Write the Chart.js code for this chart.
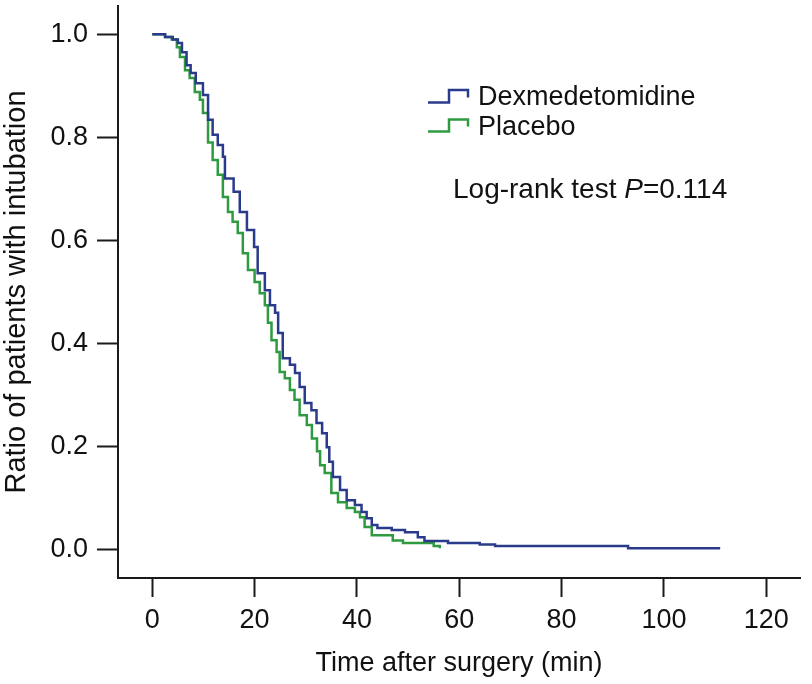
<!DOCTYPE html>
<html>
<head>
<meta charset="utf-8">
<script src="https://cdn.jsdelivr.net/npm/chart.js@4"></script>
<style>
  body { margin: 0; background: #fff; }
  #chartContainer { display: block; }
</style>
</head>
<body>
<canvas id="chartContainer" width="812" height="684"></canvas>
<script>
// Kaplan-Meier style data (time in min, ratio still intubated)
const dexTimes = [0, 2.5, 4, 5, 5.8, 6.7, 7.5, 8.5, 9.9, 10.9, 11.8, 12.8, 13.8, 14.2, 15.9, 17.1, 18.5, 19.9, 20.6, 22, 23, 24, 24.6, 25.5, 26.9, 27.9, 28.8, 29.8, 31.1, 32.1, 33.2, 34.1, 34.6, 35.3, 36.7, 38, 39.6, 40.9, 41.9, 42.9, 44, 46.8, 49.4, 51.9, 53.2, 57.8, 64, 67, 93, 111];
const dexRatio = [1.0, 0.995, 0.99, 0.983, 0.965, 0.94, 0.925, 0.905, 0.882, 0.834, 0.805, 0.785, 0.762, 0.72, 0.694, 0.655, 0.62, 0.587, 0.536, 0.503, 0.474, 0.459, 0.42, 0.371, 0.358, 0.342, 0.315, 0.284, 0.27, 0.245, 0.225, 0.198, 0.17, 0.14, 0.115, 0.095, 0.086, 0.072, 0.06, 0.047, 0.041, 0.037, 0.033, 0.023, 0.016, 0.012, 0.009, 0.006, 0.002, 0.002];

const placeboTimes = [0, 2.5, 3.8, 4.8, 5.4, 6.4, 7.3, 8.3, 9.3, 9.9, 10.9, 11.8, 12.8, 13.8, 14.8, 15.7, 16.7, 17.7, 18.7, 20, 21, 22, 22.6, 23.3, 24.3, 24.9, 25.9, 26.9, 27.8, 28.8, 30.2, 31.2, 32.2, 32.8, 33.7, 35, 36.3, 38, 39.6, 40.6, 41.5, 42.9, 47, 49, 55, 56.2];
const placeboRatio = [1.0, 0.995, 0.99, 0.975, 0.956, 0.93, 0.915, 0.888, 0.873, 0.847, 0.79, 0.756, 0.727, 0.684, 0.655, 0.636, 0.614, 0.575, 0.542, 0.519, 0.497, 0.474, 0.44, 0.406, 0.383, 0.344, 0.332, 0.309, 0.29, 0.26, 0.241, 0.215, 0.19, 0.163, 0.148, 0.109, 0.091, 0.08, 0.072, 0.062, 0.043, 0.027, 0.017, 0.012, 0.006, 0.002];

const seriesNames = ['Dexmedetomidine', 'Placebo'];
const xTickValues = [0, 20, 40, 60, 80, 100, 120];
const yTickValues = [0, 0.2, 0.4, 0.6, 0.8, 1.0];
const pValueText = '=0.114';

const blue = '#2b3b8c';
const green = '#2f9a40';
const FONT = '"Liberation Sans", Arial, sans-serif';

function toPoints(xs, ys) {
    return xs.map((x, i) => ({ x: x, y: ys[i] }));
}

// draws the step-icon legend and the log-rank note
const notesPlugin = {
    id: 'notes',
    afterDraw(chart) {
        const ctx = chart.ctx;
        ctx.save();
        const icons = [
            { color: blue, low: 102.5, high: 90, label: seriesNames[0], base: 105 },
            { color: green, low: 131.5, high: 119.5, label: seriesNames[1], base: 135 }
        ];
        icons.forEach(it => {
            ctx.strokeStyle = it.color;
            ctx.lineWidth = 2.5;
            ctx.beginPath();
            ctx.moveTo(428, it.low);
            ctx.lineTo(449, it.low);
            ctx.lineTo(449, it.high);
            ctx.lineTo(468, it.high);
            ctx.lineTo(468, it.low - 5);
            ctx.stroke();
            ctx.fillStyle = '#111';
            ctx.font = '27px ' + FONT;
            ctx.textBaseline = 'alphabetic';
            ctx.fillText(it.label, 478, it.base);
        });
        ctx.font = '28px ' + FONT;
        let x = 453;
        const pre = 'Log-rank test ';
        ctx.fillText(pre, x, 198);
        x += ctx.measureText(pre).width;
        ctx.font = 'italic 28px ' + FONT;
        ctx.fillText('P', x, 198);
        x += ctx.measureText('P').width;
        ctx.font = '28px ' + FONT;
        ctx.fillText(pValueText, x, 198);
        ctx.restore();
    }
};

const ctx = document.getElementById('chartContainer').getContext('2d');

new Chart(ctx, {
    type: 'line',
    data: {
        datasets: [{
            label: seriesNames[0],
            data: toPoints(dexTimes, dexRatio),
            borderColor: blue,
            borderWidth: 2.5,
            pointRadius: 0,
            stepped: true,
            fill: false
        }, {
            label: seriesNames[1],
            data: toPoints(placeboTimes, placeboRatio),
            borderColor: green,
            borderWidth: 2.5,
            pointRadius: 0,
            stepped: true,
            fill: false
        }]
    },
    options: {
        responsive: false,
        animation: false,
        layout: { padding: { top: 6, right: 12, bottom: 0, left: 0 } },
        plugins: {
            legend: { display: false },
            tooltip: { enabled: false }
        },
        scales: {
            x: {
                type: 'linear',
                min: -6.7,
                max: 126.6,
                afterBuildTicks: s => { s.ticks = xTickValues.map(v => ({ value: v })); },
                afterFit: s => { s.height = 106; s.paddingLeft = 0; s.paddingRight = 0; },
                border: { display: true, color: '#1a1a1a', width: 2 },
                grid: { drawOnChartArea: false, tickLength: 19, tickColor: '#1a1a1a', tickWidth: 2 },
                ticks: { color: '#111', font: { family: FONT, size: 27 }, padding: 7, maxRotation: 0 },
                title: {
                    display: true,
                    text: 'Time after surgery (min)',
                    color: '#111',
                    font: { family: FONT, size: 27, lineHeight: 1.2 },
                    padding: { top: 0, bottom: 4 }
                }
            },
            y: {
                type: 'linear',
                min: -0.056,
                max: 1.055,
                afterBuildTicks: s => { s.ticks = yTickValues.map(v => ({ value: v })); },
                afterFit: s => { s.width = 118; s.paddingTop = 0; s.paddingBottom = 0; },
                border: { display: true, color: '#1a1a1a', width: 2 },
                grid: { drawOnChartArea: false, tickLength: 21, tickColor: '#1a1a1a', tickWidth: 2 },
                ticks: {
                    color: '#111',
                    font: { family: FONT, size: 27 },
                    padding: 9,
                    callback: v => v.toFixed(1)
                },
                title: {
                    display: true,
                    text: 'Ratio of patients with intubation',
                    color: '#111',
                    font: { family: FONT, size: 29, lineHeight: 1.2 },
                    padding: { top: 0, bottom: 0 }
                }
            }
        }
    },
    plugins: [notesPlugin]
});
</script>
</body>
</html>
